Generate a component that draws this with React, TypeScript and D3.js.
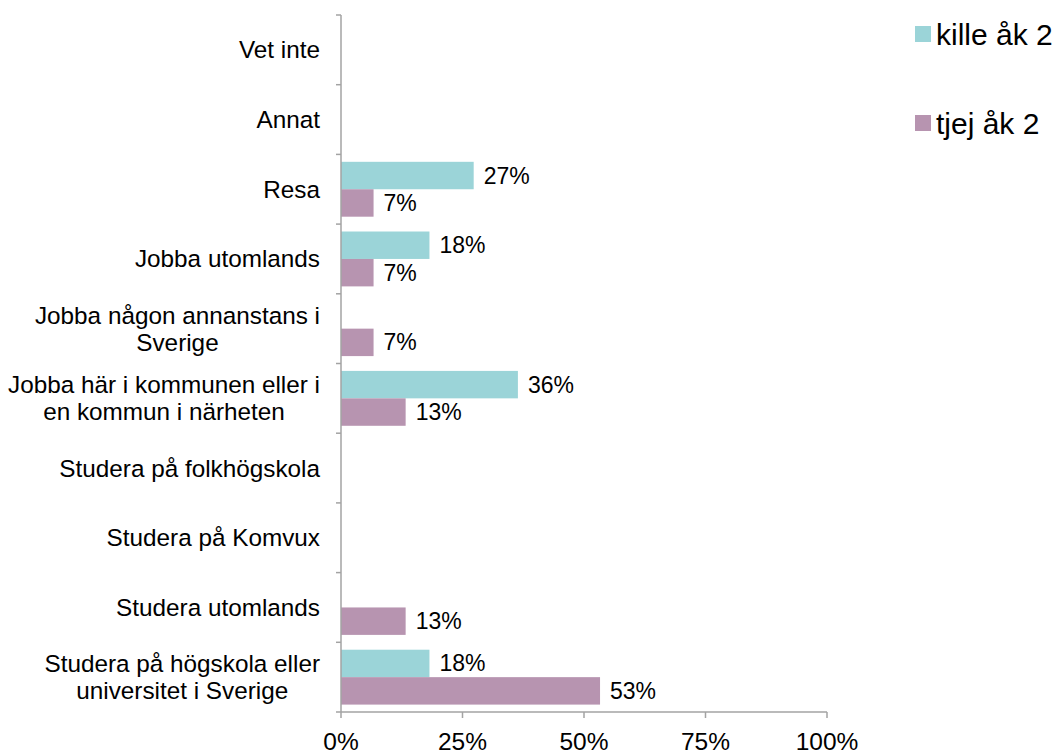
import React from "react";
import * as d3 from "d3";

// Answer options, top to bottom
const categories: string[][] = [
  ["Vet inte"],
  ["Annat"],
  ["Resa"],
  ["Jobba utomlands"],
  ["Jobba någon annanstans i", "Sverige"],
  ["Jobba här i kommunen eller i", "en kommun i närheten"],
  ["Studera på folkhögskola"],
  ["Studera på Komvux"],
  ["Studera utomlands"],
  ["Studera på högskola eller", "universitet i Sverige"],
];

const seriesNames = ["kille åk 2", "tjej åk 2"];
const seriesColors = ["#9BD4D8", "#B794B0"];

// Share of respondents (%) per category
const killeValues = [0, 0, 27.3, 18.2, 0, 36.4, 0, 0, 0, 18.2];
const tjejValues = [0, 0, 6.7, 6.7, 6.7, 13.3, 0, 0, 13.3, 53.3];

const xTicks = [0, 25, 50, 75, 100];

const W = 1055;
const H = 756;
const left = 341;
const right = 827;
const top = 15;
const bottom = 712;
const axisColor = "#A3A3A3";
const font = "'Liberation Sans', Arial, sans-serif";
const catFontSize = 24.3;
const labelRight = 320;

// Width of a text run, used to centre wrapped category labels as one block
let measureCtx: CanvasRenderingContext2D | null = null;
function textWidth(t: string, size: number): number {
  if (!measureCtx) measureCtx = document.createElement("canvas").getContext("2d");
  if (!measureCtx) return t.length * size * 0.5;
  measureCtx.font = `${size}px ${font}`;
  return measureCtx.measureText(t).width;
}

export default function App() {
  const x = d3.scaleLinear().domain([0, 100]).range([left, right]);
  const y = d3
    .scaleBand<number>()
    .domain(d3.range(categories.length))
    .range([top, bottom])
    .padding(0);
  const inner = d3
    .scaleBand<number>()
    .domain([0, 1])
    .range([0, y.bandwidth()])
    .paddingInner(0)
    .paddingOuter(0.27);
  const series = [killeValues, tjejValues];
  const fmt = (v: number) => `${Math.round(v)}%`;

  const boundaries = d3.range(categories.length + 1).map((i) =>
    i < categories.length ? (y(i) as number) : bottom
  );

  return (
    <svg
      width={W}
      height={H}
      style={{ position: "absolute", left: 0, top: 0, background: "#fff" }}
      fontFamily={font}
    >
      {/* bars and value labels */}
      {series.map((vals, s) =>
        vals.map((v, i) => {
          if (v <= 0) return null;
          const by = (y(i) as number) + (inner(s) as number);
          const bh = inner.bandwidth();
          return (
            <g key={`${s}-${i}`}>
              <rect
                x={x(0)}
                y={by}
                width={x(v) - x(0)}
                height={bh}
                fill={seriesColors[s]}
              />
              <text
                x={x(v) + 10}
                y={by + bh / 2}
                dy="0.35em"
                fontSize={23}
                fill="#000"
              >
                {fmt(v)}
              </text>
            </g>
          );
        })
      )}

      {/* category axis */}
      <line x1={left} x2={left} y1={top} y2={bottom} stroke={axisColor} strokeWidth={1.5} />
      {boundaries.map((b, i) => (
        <line key={i} x1={left - 5} x2={left} y1={b} y2={b} stroke={axisColor} strokeWidth={1.5} />
      ))}
      {categories.map((lines, i) => {
        const cy = (y(i) as number) + y.bandwidth() / 2;
        const lh = 27;
        const y0 = cy - ((lines.length - 1) * lh) / 2;
        if (lines.length === 1) {
          return (
            <text key={i} x={labelRight} y={cy} dy="0.35em" textAnchor="end" fontSize={catFontSize} fill="#000">
              {lines[0]}
            </text>
          );
        }
        const maxW = d3.max(lines, (t) => textWidth(t.trimEnd(), catFontSize)) ?? 0;
        const cx = labelRight - maxW / 2;
        return (
          <text key={i} textAnchor="middle" fontSize={catFontSize} fill="#000">
            {lines.map((t, j) => (
              <tspan key={j} x={cx} y={y0 + j * lh} dy="0.35em">
                {t}
              </tspan>
            ))}
          </text>
        );
      })}

      {/* value axis */}
      <line x1={left} x2={right} y1={bottom} y2={bottom} stroke={axisColor} strokeWidth={1.5} />
      {xTicks.map((t) => (
        <g key={t}>
          <line x1={x(t)} x2={x(t)} y1={bottom} y2={bottom + 6} stroke={axisColor} strokeWidth={1.5} />
          <text x={x(t)} y={750} textAnchor="middle" fontSize={24.5} fill="#000">
            {`${t}%`}
          </text>
        </g>
      ))}

      {/* legend */}
      {seriesNames.map((name, s) => {
        const ly = [34, 123][s];
        return (
          <g key={name}>
            <rect x={915} y={ly - 8} width={16} height={16} fill={seriesColors[s]} />
            <text x={936} y={ly} dy="0.35em" fontSize={30} fill="#000">
              {name}
            </text>
          </g>
        );
      })}
    </svg>
  );
}
